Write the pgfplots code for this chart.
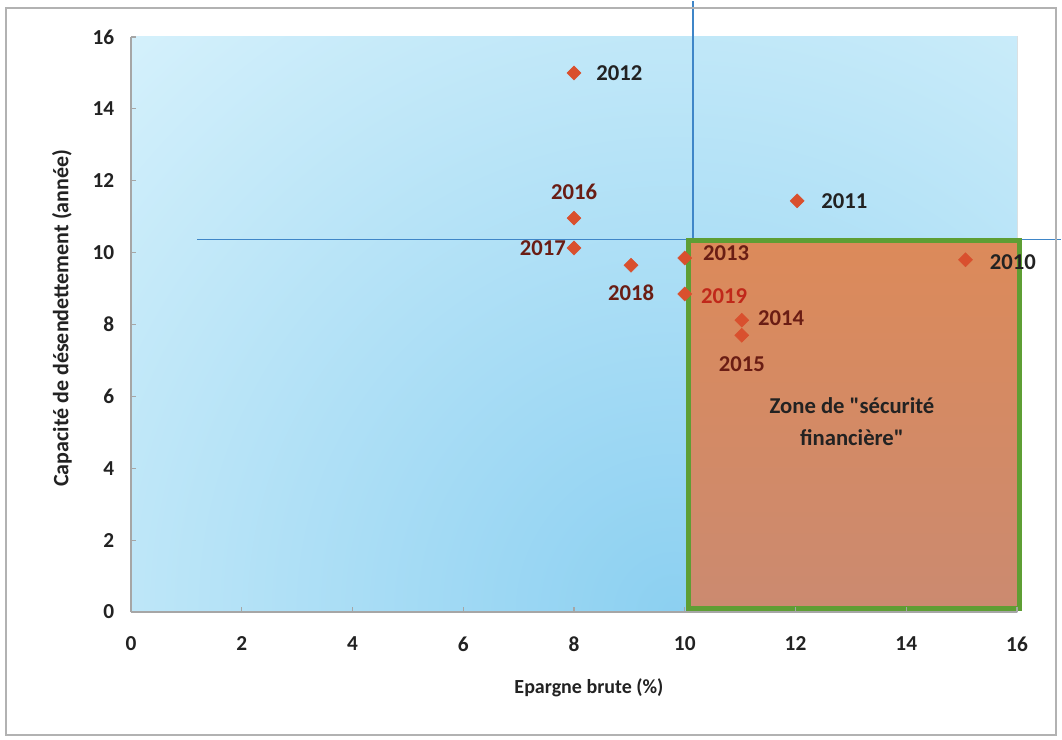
\documentclass[border=0pt]{standalone}
\usepackage{pgfplots}
\pgfplotsset{compat=1.18}
\usepackage{fontspec}
\setmainfont{Carlito}
\definecolor{bgA}{HTML}{DAF3FC}
\definecolor{bgB}{HTML}{8CD0F1}
\definecolor{zoneTop}{HTML}{DC8A5A}
\definecolor{zoneBot}{HTML}{CB8A70}
\definecolor{zoneEdge}{HTML}{5E9E34}
\definecolor{guide}{HTML}{3F86C8}
\definecolor{mk}{HTML}{D9502E}
\definecolor{dred}{HTML}{6A1D14}
\definecolor{rred}{HTML}{C0281A}
\definecolor{axgray}{HTML}{A6A6A6}
\definecolor{txt}{HTML}{222222}
\pgfplotstableread{
x y
15.07 9.80
12.03 11.44
8.00 15.00
10.00 9.85
11.03 8.12
11.03 7.70
8.00 10.96
8.00 10.13
9.03 9.65
10.00 8.85
}\pts
\begin{document}
\begin{tikzpicture}
\begin{axis}[
  at={(0,0)}, anchor=south west, scale only axis,
  width=664.5pt, height=431.25pt,
  xmin=0, xmax=16, ymin=0, ymax=16,
  xtick={0,2,...,16}, ytick={0,2,...,16},
  axis x line*=bottom, axis y line*=left,
  axis line style={-, axgray, line width=0.8pt},
  tick style={axgray, line width=0.8pt},
  tick align=inside, major tick length=4pt,
  axis on top, clip=false,
  /pgf/number format/assume math mode=true,
  ticklabel style={font=\fontsize{16}{19}\selectfont\bfseries, text=txt},
  yticklabel style={xshift=-9pt},
  xticklabel style={yshift=-15pt},
  xlabel={Epargne brute (\%)},
  ylabel={Capacité de désendettement (année)},
  every axis x label/.style={at={(axis cs:8.27,0)}, anchor=center, yshift=-57pt,
     font=\fontsize{15}{18}\selectfont\bfseries, text=txt},
  every axis y label/.style={at={(rel axis cs:0,0.511)}, xshift=-51.75pt, anchor=center, rotate=90,
     font=\fontsize{16.5}{19}\selectfont\bfseries, text=txt},
]
\begin{scope}
  \clip (axis cs:0,0) rectangle (axis cs:16,16);
  \fill[inner color=bgB, outer color=bgA] (axis cs:9.8,0) circle[radius=640pt];
\end{scope}
\draw[guide, line width=1.1pt] (axis cs:1.2,10.37) -- (axis cs:16.8,10.37);
\draw[guide, line width=1.1pt] (axis cs:10.15,10.37) -- (axis cs:10.15,17.0);
\draw[zoneEdge, line width=3.75pt, top color=zoneTop, bottom color=zoneBot]
  (axis cs:10.06,0.1) rectangle (axis cs:16.04,10.33);
\node[align=center, font=\fontsize{17}{24}\selectfont\bfseries, text=txt]
  at (axis cs:13.02,5.29) {Zone de \textquotedbl sécurité\\financière\textquotedbl};
\addplot[only marks, mark=square*, mark size=3.7pt, mark options={rotate=45, fill=mk, draw=mk}]
  table[x=x, y=y] {\pts};
\begin{scope}[every node/.style={font=\fontsize{17}{20}\selectfont\bfseries, inner sep=0pt}]
\node[anchor=west, text=txt, xshift=16.5pt] at (axis cs:8,15) {2012};
\node[anchor=west, text=txt, xshift=18pt] at (axis cs:12.03,11.44) {2011};
\node[anchor=west, text=txt, xshift=18pt, yshift=-1.5pt] at (axis cs:15.07,9.8) {2010};
\node[text=dred, yshift=19.5pt] at (axis cs:8,10.96) {2016};
\node[anchor=east, text=dred, xshift=-6pt] at (axis cs:8,10.13) {2017};
\node[text=dred, yshift=-21pt] at (axis cs:9.03,9.65) {2018};
\node[anchor=west, text=dred, xshift=13.5pt, yshift=3.5pt] at (axis cs:10,9.85) {2013};
\node[anchor=west, text=rred, xshift=12pt, yshift=-1.5pt] at (axis cs:10,8.85) {2019};
\node[anchor=west, text=dred, xshift=12pt, yshift=1.5pt] at (axis cs:11.03,8.12) {2014};
\node[text=dred, yshift=-21.75pt] at (axis cs:11.03,7.7) {2015};
\end{scope}
\end{axis}
\pgfresetboundingbox
\draw[gray!60, line width=1.2pt] (-93.75pt,-92.25pt) rectangle (693.75pt,453pt);
\path (-98.25pt,-95.25pt) rectangle (698.25pt,459pt);
\end{tikzpicture}
\end{document}
